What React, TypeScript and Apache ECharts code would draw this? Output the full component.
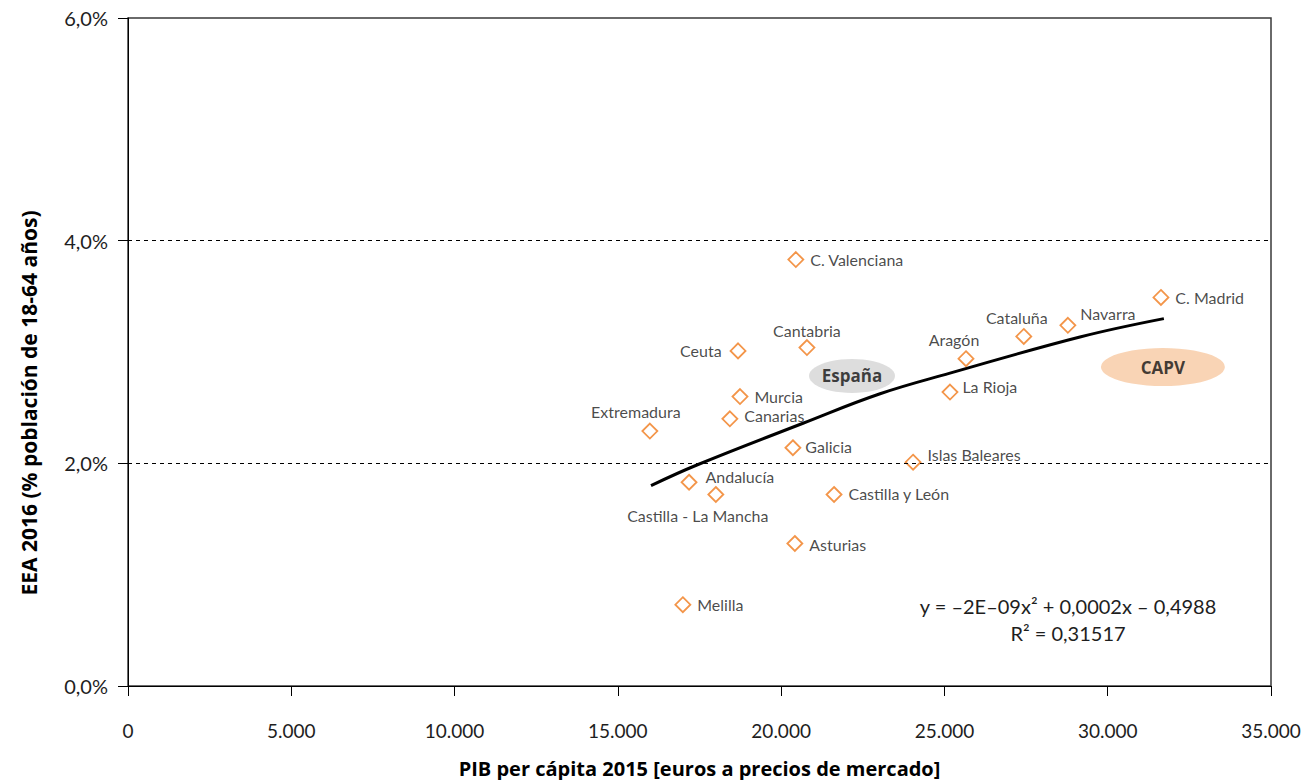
import React, { useEffect, useRef } from "react";
import * as echarts from "echarts";

const regions = [
  "C. Valenciana", "C. Madrid", "Navarra", "Cataluña", "Cantabria", "Ceuta",
  "Aragón", "Murcia", "La Rioja", "Canarias", "Extremadura", "Galicia",
  "Islas Baleares", "Andalucía", "Castilla - La Mancha", "Castilla y León",
  "Asturias", "Melilla",
];
const pibPerCapita = [
  20450, 31630, 28780, 27430, 20790, 18680,
  25660, 18740, 25170, 18430, 15980, 20360,
  24040, 17180, 18000, 21620,
  20420, 16990,
];
const eea = [
  3.83, 3.49, 3.24, 3.14, 3.04, 3.01,
  2.94, 2.60, 2.64, 2.40, 2.29, 2.14,
  2.01, 1.83, 1.72, 1.72,
  1.28, 0.73,
];
// trend line
const trendX = [16015, 17420, 20670, 23030, 25170, 29150, 31720];
const trendY = [1.80, 1.985, 2.36, 2.625, 2.81, 3.135, 3.30];

const highlightNames = ["España", "CAPV"];
const highlightX = [22170, 31690];
const highlightY = [2.785, 2.865];

const xTicks = [0, 5000, 10000, 15000, 20000, 25000, 30000, 35000];
const yTicks = [0, 2, 4, 6];

const FONT = "Lato";
const BOLD_FONT = "Open Sans";

const labelPos: Record<string, any> = {
  "C. Valenciana": { position: "right", offset: [0, 0] },
  "C. Madrid": { position: "right", offset: [0, 0] },
  "Navarra": { position: "right", offset: [-2, -12] },
  "Cataluña": { position: "top", offset: [-7, 3] },
  "Cantabria": { position: "top", offset: [0, 5] },
  "Ceuta": { position: "left", offset: [-2, 0] },
  "Aragón": { position: "top", offset: [-12, 3] },
  "Murcia": { position: "right", offset: [0, 0] },
  "La Rioja": { position: "right", offset: [-2, -6] },
  "Canarias": { position: "right", offset: [0, -3] },
  "Extremadura": { position: "top", offset: [-14, 3] },
  "Galicia": { position: "right", offset: [-2, -1] },
  "Islas Baleares": { position: "right", offset: [0, -8] },
  "Andalucía": { position: "right", offset: [2, -6] },
  "Castilla - La Mancha": { position: "bottom", offset: [-18, -1] },
  "Castilla y León": { position: "right", offset: [0, -1] },
  "Asturias": { position: "right", offset: [0, 1] },
  "Melilla": { position: "right", offset: [0, 0] },
};

function fmtX(v: number) {
  if (v === 0) return "0";
  return String(v).replace(/\B(?=(\d{3})+(?!\d))/g, ".");
}

export default function App() {
  const ref = useRef<HTMLDivElement>(null);
  useEffect(() => {
    if (!ref.current) return;
    const chart = echarts.init(ref.current, undefined, { renderer: "svg" });
    const pointData = regions.map((name, i) => {
      const lp = labelPos[name] || { position: "right", offset: [0, 0] };
      return {
        name,
        value: [pibPerCapita[i], eea[i]],
        label: { position: lp.position, offset: lp.offset },
      };
    });
    const hlColors = ["#D4D4D4", "#F8C9A3"];
    const hlSizes = [[86, 34], [124, 38]];
    const option: any = {
      animation: false,
      textStyle: { fontFamily: FONT },
      grid: {
        left: 128, right: 38, top: 18, bottom: 94,
        outerBoundsMode: "none",
        containLabel: false,
        show: true, borderColor: "#3a3a3a", borderWidth: 1.5, backgroundColor: "transparent",
      },
      xAxis: {
        type: "value", min: 0, max: 35000, interval: 5000,
        name: "PIB per cápita 2015 [euros a precios de mercado]",
        nameLocation: "middle", nameGap: 72,
        nameTextStyle: { fontFamily: BOLD_FONT, fontWeight: "bold", fontSize: 20, color: "#000" },
        axisLine: { show: true, lineStyle: { color: "#000", width: 1 } },
        axisTick: { show: true, length: 10, lineStyle: { color: "#000" } },
        axisLabel: { fontFamily: FONT, fontSize: 19, color: "#1e1e1e", margin: 35, formatter: (v: number) => fmtX(v) },
        splitLine: { show: false },
      },
      yAxis: {
        type: "value", min: 0, max: 6, interval: 2,
        axisLine: { show: true, lineStyle: { color: "#000", width: 1 } },
        axisTick: { show: true, length: 10, lineStyle: { color: "#000" } },
        axisLabel: { fontFamily: FONT, fontSize: 20, color: "#1e1e1e", margin: 20, formatter: (v: number) => v.toFixed(1).replace(".", ",") + "%" },
        splitLine: { show: false },
      },
      graphic: [
        {
          type: "text", x: 29, y: 403, rotation: Math.PI / 2,
          style: {
            text: "EEA 2016 (% población de 18-64 años)",
            fontFamily: BOLD_FONT, fontWeight: "bold", fontSize: 21, fill: "#000",
            align: "center", verticalAlign: "middle",
          },
        },
        {
          type: "text", x: 1068, y: 606,
          style: {
            text: "y = –2E–09x² + 0,0002x – 0,4988",
            fontFamily: FONT, fontSize: 20, fill: "#1e1e1e", align: "center", verticalAlign: "middle",
          },
        },
        {
          type: "text", x: 1068, y: 633,
          style: {
            text: "R² = 0,31517",
            fontFamily: FONT, fontSize: 20, fill: "#1e1e1e", align: "center", verticalAlign: "middle",
          },
        },
      ],
      series: [
        {
          type: "line",
          data: [],
          silent: true,
          markLine: {
            silent: true, symbol: "none", label: { show: false },
            lineStyle: { type: [4, 4], color: "#000", width: 1 },
            data: [{ yAxis: 2 }, { yAxis: 4 }],
          },
        },
        {
          type: "scatter",
          z: 1,
          silent: true,
          data: highlightNames.map((n, i) => ({
            name: n,
            value: [highlightX[i], highlightY[i]],
            symbolSize: hlSizes[i],
            itemStyle: { color: hlColors[i] },
          })),
          symbol: "circle",
          label: {
            show: true, position: "inside", formatter: "{b}",
            fontFamily: BOLD_FONT, fontWeight: "bold", fontSize: 17, color: "#111",
          },
        },
        {
          type: "line",
          z: 3,
          data: trendX.map((x, i) => [x, trendY[i]]),
          smooth: 0.4,
          showSymbol: false,
          symbol: "none",
          lineStyle: { color: "#000", width: 3 },
        },
        {
          type: "scatter",
          z: 4,
          symbol: "diamond",
          symbolSize: 15,
          itemStyle: { color: "#fff", borderColor: "#F07A1C", borderWidth: 1.8 },
          label: {
            show: true, formatter: "{b}", fontFamily: FONT, fontSize: 16, color: "#1a1a1a", distance: 6,
          },
          data: pointData,
        },
      ],
    };
    chart.setOption(option);
    return () => chart.dispose();
  }, []);
  return <div ref={ref} style={{ width: 1309, height: 780, position: "absolute", left: 0, top: 0 }} />;
}
